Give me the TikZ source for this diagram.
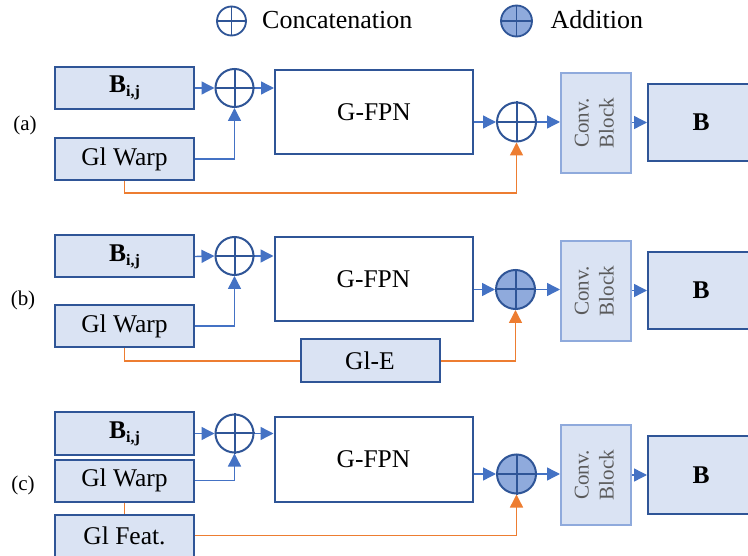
\documentclass[tikz,border=0pt]{standalone}
\usepackage{fontspec}
\usepackage{graphicx}
\setmainfont{Liberation Serif}
\usetikzlibrary{arrows.meta}
\definecolor{boxfill}{HTML}{DAE3F3}
\definecolor{boxline}{HTML}{2F5597}
\definecolor{arrblue}{HTML}{4472C4}
\definecolor{arrorange}{HTML}{ED7D31}
\definecolor{addfill}{HTML}{8FAADC}
\definecolor{convline}{HTML}{8FAADC}
\definecolor{convtext}{HTML}{5A5A5A}
\tikzset{
  mainfont/.style={font=\fontsize{25.5}{28}\selectfont},
  inbox/.style={draw=boxline, line width=2pt, fill=boxfill, minimum width=139pt, minimum height=42pt, inner sep=0pt, mainfont},
  fpnbox/.style={draw=boxline, line width=2pt, fill=white, minimum width=198pt, minimum height=84pt, inner sep=0pt, mainfont},
  convbox/.style={draw=convline, line width=2pt, fill=boxfill, minimum width=70pt, minimum height=100pt, inner sep=0pt, text=convtext, font=\fontsize{21}{25}\selectfont},
  outbox/.style={draw=boxline, line width=2pt, fill=boxfill, minimum width=106pt, minimum height=77pt, inner sep=0pt, font=\fontsize{25.5}{28}\selectfont\bfseries},
  catc/.style={circle, draw=boxline, line width=2pt, fill=white, minimum size=38pt, inner sep=0pt},
  addc/.style={circle, draw=boxline, line width=2pt, fill=addfill, minimum size=39pt, inner sep=0pt},
  crossline/.style={draw=boxline, line width=2pt},
  blarrow/.style={draw=arrblue, line width=1.4pt, -{Triangle[length=13pt,width=13pt]}},
  orarrow/.style={draw=arrorange, line width=1.4pt, -{Triangle[length=13pt,width=13pt]}},
  orline/.style={draw=arrorange, line width=1.4pt},
  plabel/.style={font=\fontsize{21}{24}\selectfont},
  legtext/.style={font=\fontsize{26}{28}\selectfont, anchor=west, inner sep=0pt}
}
\newcommand{\bij}{\textbf{B\raisebox{-4pt}{\fontsize{16}{16}\selectfont i,j}}}
\newcommand{\convtxt}{\rotatebox{90}{\begin{tabular}{@{}c@{}}Conv.\\Block\end{tabular}}}
\begin{document}
\begin{tikzpicture}[x=1pt, y=-1pt]
\useasboundingbox (0,0) rectangle (748,556);

% legend
\node[catc, minimum size=29pt, line width=1.8pt] (lcat) at (231.5,21) {};
\draw[crossline, line width=1.8pt] (lcat.north) -- (lcat.south) (lcat.west) -- (lcat.east);
\node[legtext] (lcatt) at (262,20) {Concatenation};
\node[addc, minimum size=31pt, line width=1.8pt] (ladd) at (516.5,21) {};
\draw[crossline, line width=1.8pt] (ladd.north) -- (ladd.south) (ladd.west) -- (ladd.east);
\node[legtext] (laddt) at (550.5,20) {Addition};

% ---------------- panel (a)
\node[plabel] (la) at (25,125) {(a)};
\node[inbox] (a-bij) at (124.5,88) {\bij};
\node[inbox] (a-warp) at (124.5,159) {Gl Warp};
\node[catc] (a-cat) at (234.5,88) {};
\draw[crossline] (a-cat.north) -- (a-cat.south) (a-cat.west) -- (a-cat.east);
\node[fpnbox] (a-fpn) at (374,112) {G-FPN};
\node[addc, fill=white] (a-add) at (516.5,122) {};
\draw[crossline] (a-add.north) -- (a-add.south) (a-add.west) -- (a-add.east);
\node[convbox] (a-conv) at (596,123) {\convtxt};
\node[outbox] (a-out) at (701,122.5) {B};
\coordinate (a-o1) at (124.5,193);
\draw[blarrow] (a-bij.east) -- (a-cat.west);
\draw[blarrow] (a-warp.east) -| (a-cat.south);
\draw[blarrow] (a-cat.east) -- (a-cat.east -| a-fpn.west);
\draw[blarrow] (a-add.west -| a-fpn.east) -- (a-add.west);
\draw[blarrow] (a-add.east) -- (a-add.east -| a-conv.west);
\draw[blarrow] (a-out.west -| a-conv.east) -- (a-out.west);
\draw[orarrow] (a-warp.south) -- (a-o1) -| (a-add.south);

% ---------------- panel (b)
\node[plabel] (lb) at (23,300) {(b)};
\node[inbox] (b-bij) at (124.5,256.5) {\bij};
\node[inbox] (b-warp) at (124.5,326) {Gl Warp};
\node[catc] (b-cat) at (234.5,256) {};
\draw[crossline] (b-cat.north) -- (b-cat.south) (b-cat.west) -- (b-cat.east);
\node[fpnbox] (b-fpn) at (373.5,279) {G-FPN};
\node[addc] (b-add) at (515.5,289.5) {};
\draw[crossline] (b-add.north) -- (b-add.south) (b-add.west) -- (b-add.east);
\node[convbox] (b-conv) at (596,291) {\convtxt};
\node[outbox] (b-out) at (701,290.5) {B};
\node[inbox, minimum height=43pt] (b-gle) at (370,361) {Gl-E};
\draw[blarrow] (b-bij.east) -- (b-cat.west);
\draw[blarrow] (b-warp.east) -| (b-cat.south);
\draw[blarrow] (b-cat.east) -- (b-cat.east -| b-fpn.west);
\draw[blarrow] (b-add.west -| b-fpn.east) -- (b-add.west);
\draw[blarrow] (b-add.east) -- (b-add.east -| b-conv.west);
\draw[blarrow] (b-out.west -| b-conv.east) -- (b-out.west);
\draw[orline] (b-warp.south) |- (b-gle.west);
\draw[orarrow] (b-gle.east) -| (b-add.south);

% ---------------- panel (c)
\node[plabel] (lc) at (23,485) {(c)};
\node[inbox] (c-bij) at (124.5,433.5) {\bij};
\node[inbox] (c-warp) at (124.5,480.5) {Gl Warp};
\node[inbox] (c-feat) at (124.5,535.5) {Gl Feat.};
\node[catc] (c-cat) at (234.5,433.5) {};
\draw[crossline] (c-cat.north) -- (c-cat.south) (c-cat.west) -- (c-cat.east);
\node[fpnbox] (c-fpn) at (373.5,459.5) {G-FPN};
\node[addc] (c-add) at (516.5,474) {};
\draw[crossline] (c-add.north) -- (c-add.south) (c-add.west) -- (c-add.east);
\node[convbox] (c-conv) at (596,475) {\convtxt};
\node[outbox] (c-out) at (701,475) {B};
\draw[blarrow] (c-bij.east) -- (c-cat.west);
\draw[blarrow] (c-warp.east) -| (c-cat.south);
\draw[blarrow] (c-cat.east) -- (c-cat.east -| c-fpn.west);
\draw[blarrow] (c-add.west -| c-fpn.east) -- (c-add.west);
\draw[blarrow] (c-add.east) -- (c-add.east -| c-conv.west);
\draw[blarrow] (c-out.west -| c-conv.east) -- (c-out.west);
\draw[orline] (c-warp.south) -- (c-feat.north);
\draw[orarrow] (c-feat.east) -| (c-add.south);
\end{tikzpicture}
\end{document}
